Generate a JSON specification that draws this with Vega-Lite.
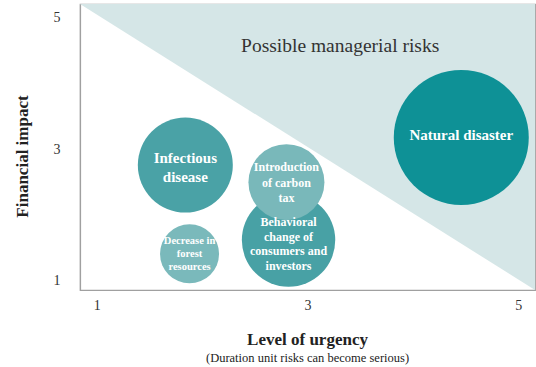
{
  "$schema": "https://vega.github.io/schema/vega-lite/v6.json",
  "autosize": {"type": "none"},
  "padding": {"left": 80, "top": 4, "right": 1, "bottom": 77},
  "width": 455,
  "height": 286,
  "background": "#ffffff",
  "config": {
    "view": {"stroke": "#a0a0a0", "strokeWidth": 1.2},
    "font": "Liberation Serif"
  },
  "title": {
    "text": "Level of urgency",
    "subtitle": "(Duration unit risks can become serious)",
    "orient": "bottom",
    "anchor": "middle",
    "font": "Liberation Serif",
    "fontSize": 17,
    "fontWeight": "bold",
    "color": "#222222",
    "subtitleFont": "Liberation Serif",
    "subtitleFontSize": 12.5,
    "subtitleColor": "#222222",
    "subtitlePadding": 3,
    "offset": 20
  },
  "datasets": {
    "zone": [
      {"x": 0.84, "y": 5.21},
      {"x": 5.16, "y": 0.86}
    ],
    "risks": [
      {"name": "Natural disaster", "lines": ["Natural disaster"], "urgency": 4.46, "impact": 3.18, "size": 18225},
      {"name": "Infectious disease", "lines": ["Infectious", "disease"], "urgency": 1.84, "impact": 2.76, "size": 9025},
      {"name": "Decrease in forest resources", "lines": ["Decrease in", "forest", "resources"], "urgency": 1.88, "impact": 1.41, "size": 3481},
      {"name": "Behavioral change of consumers and investors", "lines": ["Behavioral", "change of", "consumers and", "investors"], "urgency": 2.82, "impact": 1.62, "size": 8724},
      {"name": "Introduction of carbon tax", "lines": ["Introduction", "of carbon", "tax"], "urgency": 2.8, "impact": 2.5, "size": 5776}
    ],
    "note": [
      {"text": "Possible managerial risks", "urgency": 3.31, "impact": 4.57}
    ]
  },
  "layer": [
    {
      "data": {"name": "zone"},
      "mark": {"type": "area", "color": "#d5e6e7", "opacity": 1},
      "encoding": {
        "x": {"field": "x", "type": "quantitative", "scale": {"domain": [0.84, 5.16], "nice": false, "zero": false},
          "axis": {"values": [1, 3, 5], "format": "d", "ticks": false, "grid": false, "domainColor": "#a0a0a0", "domainWidth": 1.2,
            "labelFont": "Liberation Serif", "labelFontSize": 14, "labelColor": "#333333", "labelPadding": 8, "title": null}},
        "y": {"field": "y", "type": "quantitative", "scale": {"domain": [0.86, 5.21], "nice": false, "zero": false},
          "axis": {"values": [1, 3, 5], "format": "d", "ticks": false, "grid": false, "domainColor": "#a0a0a0", "domainWidth": 1.2,
            "labelFont": "Liberation Serif", "labelFontSize": 14, "labelColor": "#333333", "labelPadding": 20,
            "title": "Financial impact", "titleFont": "Liberation Serif", "titleFontSize": 17, "titleFontWeight": "bold",
            "titleColor": "#222222", "titleX": -58, "titleY": 152, "titleBaseline": "middle"}},
        "y2": {"datum": 5.21}
      }
    },
    {
      "data": {"name": "note"},
      "mark": {"type": "text", "fontSize": 19.5, "color": "#333333", "font": "Liberation Serif", "baseline": "middle"},
      "encoding": {
        "x": {"field": "urgency", "type": "quantitative"},
        "y": {"field": "impact", "type": "quantitative"},
        "text": {"field": "text"}
      }
    },
    {
      "data": {"name": "risks"},
      "mark": {"type": "circle", "opacity": 1},
      "encoding": {
        "x": {"field": "urgency", "type": "quantitative"},
        "y": {"field": "impact", "type": "quantitative"},
        "size": {"field": "size", "type": "quantitative", "scale": null, "legend": null},
        "color": {"field": "name", "type": "nominal", "legend": null,
          "scale": {"domain": ["Natural disaster", "Infectious disease", "Decrease in forest resources", "Behavioral change of consumers and investors", "Introduction of carbon tax"],
            "range": ["#0e9196", "#4aa2a6", "#7ab9bb", "#48a1a5", "#79b8ba"]}}
      }
    },
    {
      "data": {"name": "risks"},
      "transform": [{"filter": {"field": "name", "equal": "Natural disaster"}}],
      "mark": {"type": "text", "fontSize": 15, "fontWeight": "bold", "color": "#ffffff", "font": "Liberation Serif", "baseline": "middle", "dy": -2},
      "encoding": {
        "x": {"field": "urgency", "type": "quantitative"},
        "y": {"field": "impact", "type": "quantitative"},
        "text": {"field": "lines"}
      }
    },
    {
      "data": {"name": "risks"},
      "transform": [{"filter": {"field": "name", "equal": "Infectious disease"}}],
      "mark": {"type": "text", "fontSize": 15, "fontWeight": "bold", "color": "#ffffff", "font": "Liberation Serif", "baseline": "middle", "lineHeight": 19, "dy": -7},
      "encoding": {
        "x": {"field": "urgency", "type": "quantitative"},
        "y": {"field": "impact", "type": "quantitative"},
        "text": {"field": "lines"}
      }
    },
    {
      "data": {"name": "risks"},
      "transform": [{"filter": {"field": "name", "equal": "Decrease in forest resources"}}],
      "mark": {"type": "text", "fontSize": 10.5, "fontWeight": "bold", "color": "#ffffff", "font": "Liberation Serif", "baseline": "middle", "lineHeight": 13.3, "dy": -13},
      "encoding": {
        "x": {"field": "urgency", "type": "quantitative"},
        "y": {"field": "impact", "type": "quantitative"},
        "text": {"field": "lines"}
      }
    },
    {
      "data": {"name": "risks"},
      "transform": [{"filter": {"field": "name", "equal": "Introduction of carbon tax"}}],
      "mark": {"type": "text", "fontSize": 12, "fontWeight": "bold", "color": "#ffffff", "font": "Liberation Serif", "baseline": "middle", "lineHeight": 15.5, "dy": -15},
      "encoding": {
        "x": {"field": "urgency", "type": "quantitative"},
        "y": {"field": "impact", "type": "quantitative"},
        "text": {"field": "lines"}
      }
    },
    {
      "data": {"name": "risks"},
      "transform": [{"filter": {"field": "name", "equal": "Behavioral change of consumers and investors"}}],
      "mark": {"type": "text", "fontSize": 12, "fontWeight": "bold", "color": "#ffffff", "font": "Liberation Serif", "baseline": "middle", "lineHeight": 14.7, "dy": -18},
      "encoding": {
        "x": {"field": "urgency", "type": "quantitative"},
        "y": {"field": "impact", "type": "quantitative"},
        "text": {"field": "lines"}
      }
    }
  ]
}
